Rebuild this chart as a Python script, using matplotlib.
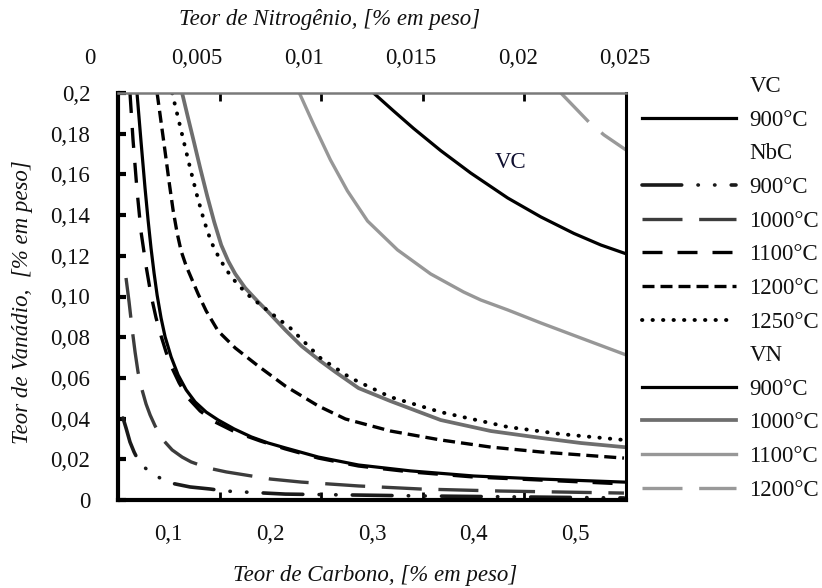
import numpy as np
import matplotlib
matplotlib.use("Agg")
import matplotlib.pyplot as plt
from matplotlib.lines import Line2D
from matplotlib.transforms import blended_transform_factory

plt.rcParams['font.family'] = ['Liberation Serif', 'DejaVu Serif']

# solubility curves, carbon (x) vs vanadium (y), % em peso
vc900_c = [0.3015, 0.3212, 0.3409, 0.3676, 0.3971, 0.4336, 0.4662, 0.4987, 0.5253, 0.550]
vc900_v = [0.200, 0.1912, 0.1826, 0.1717, 0.1607, 0.1484, 0.1391, 0.1310, 0.1253, 0.1210]

nbc900_c = [0.0549, 0.0579, 0.0618, 0.0658, 0.0697, 0.0757, 0.0825, 0.0914, 0.1013, 0.1111,
            0.1210, 0.1407, 0.1555, 0.1752, 0.2147, 0.2739, 0.3478, 0.4464, 0.548]
nbc900_v = [0.0403, 0.0354, 0.0285, 0.0236, 0.0197, 0.0162, 0.0133, 0.0108, 0.0084, 0.0074,
            0.0064, 0.0054, 0.0044, 0.0039, 0.0029, 0.0025, 0.0020, 0.0015, 0.0010]

nbc1000_c = [0.0579, 0.0609, 0.0638, 0.0668, 0.0697, 0.0737, 0.0776, 0.0816, 0.0865, 0.0944,
             0.1033, 0.1131, 0.1220, 0.1388, 0.1565, 0.1752, 0.2000, 0.2305, 0.2867, 0.3478,
             0.4267, 0.548]
nbc1000_v = [0.1091, 0.0973, 0.0845, 0.0727, 0.0629, 0.0541, 0.0472, 0.0418, 0.0364, 0.0295,
             0.0246, 0.0211, 0.0187, 0.0157, 0.0138, 0.0123, 0.0103, 0.0088, 0.0069, 0.0054,
             0.0044, 0.0034]

nbc1100_c = [0.0618, 0.0648, 0.0687, 0.0727, 0.0776, 0.0825, 0.0875, 0.0924, 0.0973, 0.1023,
             0.1102, 0.1190, 0.1309, 0.1457, 0.1654, 0.1900, 0.2147, 0.2472, 0.2867, 0.3379,
             0.4001, 0.4662, 0.548]
nbc1100_v = [0.200, 0.1769, 0.1523, 0.1317, 0.1150, 0.1007, 0.0894, 0.0806, 0.0727, 0.0658,
             0.0575, 0.0501, 0.0437, 0.0383, 0.0334, 0.0290, 0.0251, 0.0206, 0.0167, 0.0138,
             0.0113, 0.0098, 0.0079]

nbc1200_c = [0.0885, 0.0924, 0.0964, 0.1003, 0.1042, 0.1082, 0.1121, 0.1171, 0.1230, 0.1289,
             0.1368, 0.1486, 0.1654, 0.1881, 0.2147, 0.2472, 0.2739, 0.3182, 0.3676, 0.4169,
             0.4662, 0.548]
nbc1200_v = [0.200, 0.1857, 0.1710, 0.1563, 0.1425, 0.1312, 0.1224, 0.1150, 0.1081, 0.1012,
             0.0929, 0.0830, 0.0747, 0.0658, 0.0560, 0.0462, 0.0398, 0.0339, 0.0295, 0.0260,
             0.0236, 0.0206]

nbc1250_c = [0.1033, 0.1092, 0.1151, 0.1210, 0.1279, 0.1348, 0.1417, 0.1496, 0.1575, 0.1674,
             0.1802, 0.1979, 0.2196, 0.2492, 0.2788, 0.3182, 0.3676, 0.4336, 0.4859, 0.548]
nbc1250_v = [0.200, 0.1877, 0.1754, 0.1631, 0.1494, 0.1371, 0.1268, 0.1189, 0.1125, 0.1061,
             0.0998, 0.0929, 0.0845, 0.0698, 0.0600, 0.0506, 0.0432, 0.0359, 0.0324, 0.0295]

vn900_c = [0.0687, 0.0727, 0.0766, 0.0796, 0.0825, 0.0855, 0.0885, 0.0924, 0.0964, 0.1023,
           0.1092, 0.1171, 0.1259, 0.1368, 0.1486, 0.1644, 0.1812, 0.1979, 0.2147, 0.2472,
           0.2867, 0.3379, 0.4001, 0.4662, 0.548]
vn900_v = [0.200, 0.1759, 0.1533, 0.1376, 0.1238, 0.1115, 0.1007, 0.0894, 0.0801, 0.0703,
           0.0614, 0.0541, 0.0482, 0.0432, 0.0393, 0.0349, 0.0310, 0.0280, 0.0256, 0.0211,
           0.0172, 0.0143, 0.0118, 0.0103, 0.0088]

vn1000_c = [0.1131, 0.1190, 0.1250, 0.1309, 0.1378, 0.1447, 0.1516, 0.1585, 0.1654, 0.1752,
            0.1871, 0.1979, 0.2147, 0.2305, 0.2492, 0.2640, 0.2867, 0.3182, 0.3676, 0.4169,
            0.4662, 0.5056, 0.548]
vn1000_v = [0.200, 0.1877, 0.1754, 0.1631, 0.1494, 0.1366, 0.1253, 0.1174, 0.1111, 0.1042,
            0.0978, 0.0924, 0.0835, 0.0757, 0.0683, 0.0629, 0.0550, 0.0486, 0.0393, 0.0339,
            0.0305, 0.0280, 0.0260]

vn1100_c = [0.2285, 0.2423, 0.2591, 0.2758, 0.2956, 0.3251, 0.3577, 0.3902, 0.4070, 0.4336,
            0.4662, 0.5056, 0.550]
vn1100_v = [0.200, 0.1848, 0.1671, 0.1519, 0.1371, 0.1229, 0.1111, 0.1022, 0.0983, 0.0934,
            0.0870, 0.0796, 0.0713]

vn1200_c = [0.4859, 0.5135, 0.5283, 0.550]
vn1200_v = [0.200, 0.1857, 0.1794, 0.172]

x_labels = ['0,1', '0,2', '0,3', '0,4', '0,5']
x_label_pos = [0.1, 0.2, 0.3, 0.4, 0.5]
y_ticks = [0, 0.02, 0.04, 0.06, 0.08, 0.10, 0.12, 0.14, 0.16, 0.18, 0.2]
y_labels = ['0', '0,02', '0,04', '0,06', '0,08', '0,10', '0,12', '0,14', '0,16', '0,18', '0,2']
n_ticks = [0, 0.005, 0.01, 0.015, 0.02, 0.025]
n_labels = ['0', '0,005', '0,01', '0,015', '0,02', '0,025']


def n2c(n):
    # nitrogen scale drawn along the top edge
    return 0.0224 + np.asarray(n) / 0.025 * 0.5266


fig = plt.figure(figsize=(8.22, 5.88), dpi=100)
ax = fig.add_axes([118 / 822, 88 / 588, 508 / 822, 407 / 588])
ax.set_xlim(0.05, 0.55)
ax.set_ylim(0, 0.2)

FS = 16.5
dark = '#111111'

styles = {
    'vc900': dict(color='black', lw=2.3, ls='-'),
    'nbc900': dict(color='#1a1a1a', lw=2.6, ls=(0, (11, 4.5, 0.1, 4.5, 0.1, 4.5)), dash_capstyle='round'),
    'nbc1000': dict(color='#3c3c3c', lw=2.4, ls=(0, (12, 5))),
    'nbc1100': dict(color='black', lw=2.4, ls=(0, (6, 4.5))),
    'nbc1200': dict(color='black', lw=2.4, ls=(0, (3.6, 1.8))),
    'nbc1250': dict(color='black', lw=2.8, ls=(0, (0.1, 2.6)), dash_capstyle='round'),
    'vn900': dict(color='black', lw=2.3, ls='-'),
    'vn1000': dict(color='#6e6e6e', lw=2.7, ls='-'),
    'vn1100': dict(color='#979797', lw=2.4, ls='-'),
    'vn1200': dict(color='#999999', lw=2.4, ls=(0, (12, 5))),
}

ax.plot(nbc900_c, nbc900_v, **styles['nbc900'])
ax.plot(nbc1000_c, nbc1000_v, **styles['nbc1000'])
ax.plot(vn900_c, vn900_v, **styles['vn900'])
ax.plot(nbc1100_c, nbc1100_v, **styles['nbc1100'])
ax.plot(nbc1200_c, nbc1200_v, **styles['nbc1200'])
ax.plot(vn1000_c, vn1000_v, **styles['vn1000'])
ax.plot(nbc1250_c, nbc1250_v, **styles['nbc1250'])
ax.plot(vn1100_c, vn1100_v, **styles['vn1100'])
ax.plot(vn1200_c, vn1200_v, **styles['vn1200'])
ax.plot(vc900_c, vc900_v, **styles['vc900'])

ax.text(0.4366, 0.166, 'VC', fontsize=FS, color='#101030', ha='center', va='center')

# spines
for side, col, lw in [('left', 'black', 3.0), ('bottom', 'black', 3.0),
                      ('right', 'black', 2.2), ('top', '#7a7a7a', 1.8)]:
    ax.spines[side].set_color(col)
    ax.spines[side].set_linewidth(lw)

# bottom axis: labels at tenths, short tick marks halfway between
ax.set_xticks(x_label_pos)
ax.set_xticklabels(x_labels)
ax.set_xticks([0.15, 0.25, 0.35, 0.45], minor=True)
ax.tick_params(axis='x', which='major', length=0, pad=17, labelsize=FS, labelcolor=dark)
ax.tick_params(axis='x', which='minor', direction='in', length=6, width=2, color='black',
               top=True, bottom=True)
ax.set_yticks(y_ticks)
ax.set_yticklabels(y_labels)
ax.tick_params(axis='y', direction='in', length=6, width=3, color='black', pad=20,
               labelsize=FS, labelcolor=dark)

# nitrogen scale on top
trans = blended_transform_factory(ax.transData, ax.transAxes)
for n, lab in zip(n_ticks, n_labels):
    ax.text(n2c(n), 1.085, lab, transform=trans, fontsize=FS, color=dark,
            ha='center', va='center', clip_on=False)

fig.text(330 / 822, 1 - 20 / 588, 'Teor de Nitrogênio, [% em peso]', fontsize=FS,
         style='italic', color=dark, ha='center', va='center')
fig.text(375 / 822, 1 - 575 / 588, 'Teor de Carbono, [% em peso]', fontsize=FS,
         style='italic', color=dark, ha='center', va='center')
fig.text(23 / 822, 1 - 302 / 588, 'Teor de Vanádio,  [% em peso]', fontsize=FS,
         style='italic', color=dark, ha='center', va='center', rotation=90)

# legend with group headers
blank = Line2D([], [], linestyle='none')
handles = [blank, Line2D([], [], **styles['vc900']),
           blank, Line2D([], [], **styles['nbc900']), Line2D([], [], **styles['nbc1000']),
           Line2D([], [], **styles['nbc1100']), Line2D([], [], **styles['nbc1200']),
           Line2D([], [], **styles['nbc1250']),
           blank, Line2D([], [], **styles['vn900']), Line2D([], [], **styles['vn1000']),
           Line2D([], [], **styles['vn1100']), Line2D([], [], **styles['vn1200'])]
labels = ['VC', '900°C', 'NbC', '900°C', '1000°C', '1100°C', '1200°C', '1250°C',
          'VN', '900°C', '1000°C', '1100°C', '1200°C']
fig.legend(handles, labels, loc='upper left', bbox_to_anchor=(642 / 822, 1 - 76 / 588),
           frameon=False, fontsize=FS, handlelength=4.1, handletextpad=0.58,
           labelspacing=0.55, borderpad=0, borderaxespad=0, labelcolor=dark)

fig.savefig('out.png', dpi=100)
